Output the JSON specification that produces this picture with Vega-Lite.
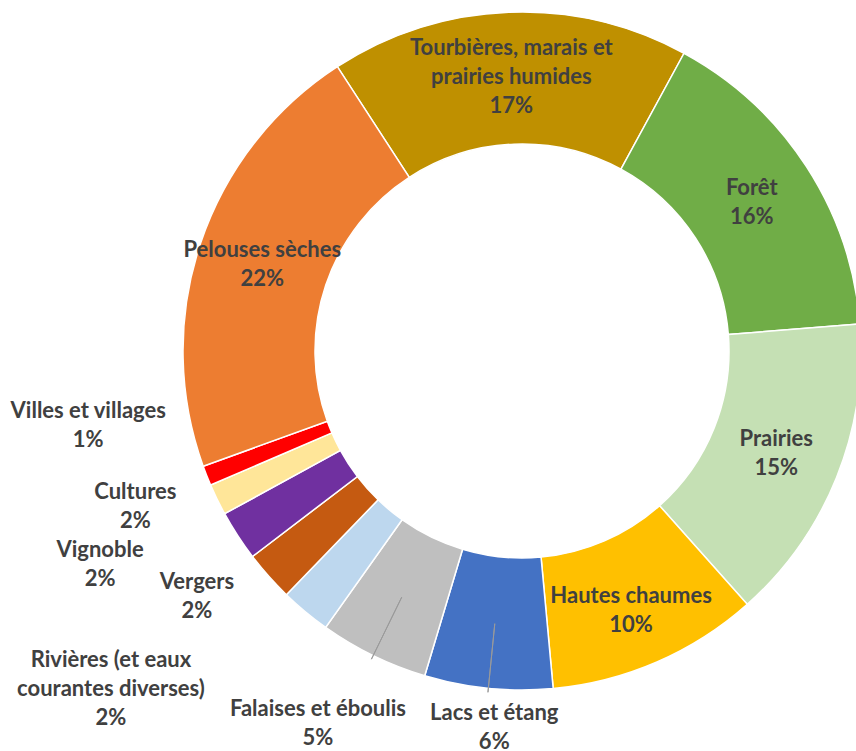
{
  "$schema": "https://vega.github.io/schema/vega-lite/v6.json",
  "width": 668,
  "height": 702,
  "autosize": "none",
  "padding": {"left": 188, "top": 0, "right": 0, "bottom": 49},
  "background": "white",
  "view": {"stroke": null},
  "config": {
    "text": {"font": "Lato", "fontWeight": "bold", "fontSize": 22, "color": "#404040", "lineBreak": "\n", "lineHeight": 29, "align": "center", "baseline": "middle"}
  },
  "data": {
    "values": [
      {"idx": 1, "name": "Tourbières, marais et prairies humides", "share": 17.1, "label": "Tourbières, marais et\nprairies humides\n17%"},
      {"idx": 2, "name": "Forêt", "share": 15.8, "label": "Forêt\n16%"},
      {"idx": 3, "name": "Prairies", "share": 14.7, "label": "Prairies\n15%"},
      {"idx": 4, "name": "Hautes chaumes", "share": 10.1, "label": "Hautes chaumes\n10%"},
      {"idx": 5, "name": "Lacs et étang", "share": 6.1, "label": "Lacs et étang\n6%"},
      {"idx": 6, "name": "Falaises et éboulis", "share": 5.2, "label": "Falaises et éboulis\n5%"},
      {"idx": 7, "name": "Rivières (et eaux courantes diverses)", "share": 2.4, "label": "Rivières (et eaux\ncourantes diverses)\n2%"},
      {"idx": 8, "name": "Vergers", "share": 2.4, "label": "Vergers\n2%"},
      {"idx": 9, "name": "Vignoble", "share": 2.4, "label": "Vignoble\n2%"},
      {"idx": 10, "name": "Cultures", "share": 1.5, "label": "Cultures\n2%"},
      {"idx": 11, "name": "Villes et villages", "share": 0.95, "label": "Villes et villages\n1%"},
      {"idx": 12, "name": "Pelouses sèches", "share": 21.35, "label": "Pelouses sèches\n22%"}
    ]
  },
  "encoding": {
    "theta": {"field": "share", "type": "quantitative", "stack": true, "scale": {"domain": [0, 100], "range": [-0.576, 5.7072]}},
    "order": {"field": "idx", "type": "quantitative"}
  },
  "layer": [
    {
      "mark": {"type": "arc", "innerRadius": 207, "outerRadius": 339, "stroke": "white", "strokeWidth": 1.5},
      "encoding": {
        "color": {
          "field": "name", "type": "nominal", "legend": null,
          "scale": {
            "domain": ["Tourbières, marais et prairies humides", "Forêt", "Prairies", "Hautes chaumes", "Lacs et étang", "Falaises et éboulis", "Rivières (et eaux courantes diverses)", "Vergers", "Vignoble", "Cultures", "Villes et villages", "Pelouses sèches"],
            "range": ["#BF9000", "#70AD47", "#C5E0B4", "#FFC000", "#4472C4", "#BFBFBF", "#BDD7EE", "#C55A11", "#7030A0", "#FFE699", "#FF0000", "#ED7D31"]
          }
        }
      }
    },
    {
      "mark": {"type": "arc", "innerRadius": 274, "outerRadius": 343, "padAngle": 1, "filled": false, "stroke": "#9A9A9A", "strokeWidth": 1},
      "encoding": {
        "strokeOpacity": {"condition": {"test": "datum.idx == 5 || datum.idx == 6", "value": 1}, "value": 0}
      }
    },
    {
      "mark": {"type": "text", "radius": 274, "dy": -29},
      "encoding": {"text": {"condition": {"test": "datum.idx == 1", "field": "label", "type": "nominal"}, "value": ""}}
    },
    {
      "mark": {"type": "text", "radius": 274, "dy": -14},
      "encoding": {"text": {"condition": {"test": "datum.idx == 2 || datum.idx == 3 || datum.idx == 12", "field": "label", "type": "nominal"}, "value": ""}}
    },
    {
      "mark": {"type": "text", "radius": 274, "dy": -6},
      "encoding": {"text": {"condition": {"test": "datum.idx == 4", "field": "label", "type": "nominal"}, "value": ""}}
    },
    {
      "mark": {"type": "text", "radius": 360, "dx": 8, "dy": 4},
      "encoding": {"text": {"condition": {"test": "datum.idx == 5", "field": "label", "type": "nominal"}, "value": ""}}
    },
    {
      "mark": {"type": "text", "radius": 360, "dx": -46, "dy": 35},
      "encoding": {"text": {"condition": {"test": "datum.idx == 6", "field": "label", "type": "nominal"}, "value": ""}}
    },
    {
      "mark": {"type": "text", "radius": 360, "dx": -181, "dy": 32},
      "encoding": {"text": {"condition": {"test": "datum.idx == 7", "field": "label", "type": "nominal"}, "value": ""}}
    },
    {
      "mark": {"type": "text", "radius": 360, "dx": -56, "dy": -8},
      "encoding": {"text": {"condition": {"test": "datum.idx == 8", "field": "label", "type": "nominal"}, "value": ""}}
    },
    {
      "mark": {"type": "text", "radius": 360, "dx": -120, "dy": 3},
      "encoding": {"text": {"condition": {"test": "datum.idx == 9", "field": "label", "type": "nominal"}, "value": ""}}
    },
    {
      "mark": {"type": "text", "radius": 360, "dx": -63, "dy": -17},
      "encoding": {"text": {"condition": {"test": "datum.idx == 10", "field": "label", "type": "nominal"}, "value": ""}}
    },
    {
      "mark": {"type": "text", "radius": 360, "dx": -99, "dy": -72},
      "encoding": {"text": {"condition": {"test": "datum.idx == 11", "field": "label", "type": "nominal"}, "value": ""}}
    }
  ]
}
